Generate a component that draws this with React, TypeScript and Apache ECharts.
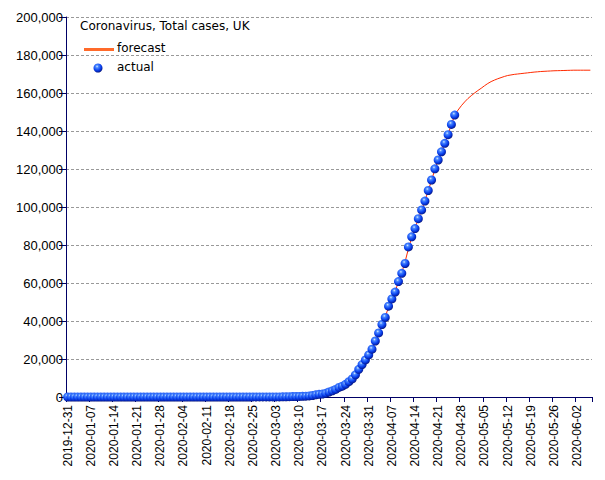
import React, { useEffect, useRef } from "react";
import * as echarts from "echarts";

const START_DATE = "2019-12-31";
const DAY_COUNT = 159;

const actualCases: number[] = [
  // 2019-12-31 .. 2020-01-31
  0, 0, 0, 0, 0, 0, 0, 0, 0, 0, 0, 0, 0, 0, 0, 0,
  0, 0, 0, 0, 0, 0, 0, 0, 0, 0, 0, 0, 0, 0, 0, 0,
  // February
  2, 2, 2, 2, 2, 2, 3, 3, 3, 4, 8, 9, 9, 9, 9, 9, 9, 9, 9, 9, 9, 9, 9, 9, 13, 13, 13, 16, 20,
  // March
  23, 36, 40, 51, 85, 115, 163, 206, 273, 321, 373, 456, 590, 798, 1140, 1391,
  1543, 1950, 2626, 3269, 3983, 5018, 5683, 6650, 8077, 9529, 11658, 14543, 17089, 19522, 22141,
  // April 1 .. 26
  25150, 29474, 33718, 38168, 41903, 47806, 51608, 55242, 60733, 65077, 70272, 78991, 84279,
  88621, 93873, 98476, 103093, 108692, 114217, 120067, 124743, 129044, 133495, 138078, 143464, 148377,
];

const forecastCases: number[] = [
  // 2019-12-31 .. 2020-02-28 (60 days)
  0, 0, 0, 0, 0, 0, 0, 0, 0, 0, 0, 0, 0, 0, 0, 0, 0, 0, 0, 0,
  0, 0, 0, 0, 0, 0, 0, 0, 0, 0, 0, 0, 0, 0, 0, 0, 0, 0, 0, 0,
  0, 0, 0, 0, 0, 0, 0, 0, 0, 0, 0, 0, 0, 0, 0, 0, 0, 0, 0, 0,
  // Feb 29
  20,
  // March
  25, 33, 45, 60, 85, 120, 160, 210, 270, 330, 390, 470, 600, 800, 1100, 1350,
  1600, 2000, 2600, 3250, 4000, 4900, 5800, 6800, 8100, 9600, 11600, 14300, 16900, 19500, 22200,
  // April 1 .. 25
  25300, 29400, 33700, 38000, 42300, 47200, 51500, 55700, 60500, 65400, 71200, 78000, 83800,
  88800, 93800, 98500, 103300, 108600, 114100, 119700, 124700, 129200, 133700, 138300, 143500,
  // April 26 .. June 6
  148500, 151000, 153300, 155300, 157100, 158600, 160000, 161300, 162500,
  163800, 165000, 166000, 166800, 167500, 168100, 168700, 169200, 169500, 169800,
  170000, 170200, 170400, 170600, 170800, 171000, 171150, 171300, 171400, 171500,
  171600, 171700, 171750, 171800, 171850, 171900, 171950,
  172000, 172000, 172000, 172000, 172000, 172000,
];

const Y_MIN = 0;
const Y_MAX = 200000;
const Y_STEP = 20000;

const TITLE = "Coronavirus, Total cases, UK";
const LEGEND_FORECAST = "forecast";
const LEGEND_ACTUAL = "actual";

function buildDates(start: string, n: number): string[] {
  const out: string[] = [];
  const base = new Date(start + "T00:00:00Z").getTime();
  for (let i = 0; i < n; i++) {
    out.push(new Date(base + i * 86400000).toISOString().slice(0, 10));
  }
  return out;
}

const dates = buildDates(START_DATE, DAY_COUNT);

function ballGradient() {
  return new echarts.graphic.RadialGradient(0.4, 0.33, 0.7, [
    { offset: 0, color: "#d8ecff" },
    { offset: 0.22, color: "#4a88ff" },
    { offset: 0.6, color: "#0c44f0" },
    { offset: 0.88, color: "#0420a8" },
    { offset: 1, color: "#000c6a" },
  ]);
}

export default function App() {
  const ref = useRef<HTMLDivElement>(null);

  useEffect(() => {
    if (!ref.current) return;
    const chart = echarts.init(ref.current, null, { renderer: "svg" });
    const navy = "#000066";
    chart.setOption({
      animation: false,
      backgroundColor: "#ffffff",
      grid: { left: 66, right: 13, top: 17, bottom: 83, containLabel: false },
      xAxis: {
        type: "category",
        data: dates,
        boundaryGap: true,
        axisLine: { show: true, lineStyle: { color: navy, width: 1 } },
        axisTick: { show: true, interval: 6, length: 5, lineStyle: { color: navy } },
        axisLabel: {
          interval: 6,
          rotate: 90,
          margin: 8,
          color: "#000",
          fontSize: 12,
          fontFamily: "Liberation Sans, Arial, sans-serif",
        },
        splitLine: { show: false },
      },
      yAxis: {
        type: "value",
        min: Y_MIN,
        max: Y_MAX,
        interval: Y_STEP,
        axisLine: { show: true, lineStyle: { color: navy, width: 1 } },
        axisTick: { show: true, length: 7, lineStyle: { color: navy } },
        axisLabel: {
          margin: 3,
          color: "#000",
          fontSize: 13,
          fontFamily: "Liberation Sans, Arial, sans-serif",
          formatter: (v: number) => v.toLocaleString("en-US"),
        },
        splitLine: { show: true, lineStyle: { color: "#999", type: [3, 2], width: 1 } },
      },
      series: [
        {
          name: LEGEND_FORECAST,
          type: "line",
          data: forecastCases,
          showSymbol: false,
          symbol: "none",
          lineStyle: { color: "#ff2a00", width: 1 },
          itemStyle: { color: "#ff2a00" },
          z: 2,
        },
        {
          name: LEGEND_ACTUAL,
          type: "scatter",
          data: actualCases,
          symbol: "circle",
          symbolSize: 9,
          itemStyle: { color: ballGradient(), opacity: 1 },
          z: 3,
        },
      ],
      graphic: [
        {
          type: "text",
          left: 80,
          top: 20,
          style: {
            text: TITLE,
            fill: "#000",
            font: "12px 'DejaVu Sans', Verdana, sans-serif",
          },
        },
        {
          type: "line",
          shape: { x1: 84, y1: 49.5, x2: 114, y2: 49.5 },
          style: { stroke: "#ff6a2a", lineWidth: 3 },
        },
        {
          type: "text",
          left: 117,
          top: 42,
          style: {
            text: LEGEND_FORECAST,
            fill: "#000",
            font: "12px 'DejaVu Sans', Verdana, sans-serif",
          },
        },
        {
          type: "circle",
          shape: { cx: 98, cy: 68, r: 4.5 },
          style: { fill: ballGradient() },
        },
        {
          type: "text",
          left: 117,
          top: 61,
          style: {
            text: LEGEND_ACTUAL,
            fill: "#000",
            font: "12px 'DejaVu Sans', Verdana, sans-serif",
          },
        },
      ],
    });
    return () => chart.dispose();
  }, []);

  return (
    <div
      ref={ref}
      style={{ position: "fixed", left: 0, top: 0, width: 605, height: 480 }}
    />
  );
}
